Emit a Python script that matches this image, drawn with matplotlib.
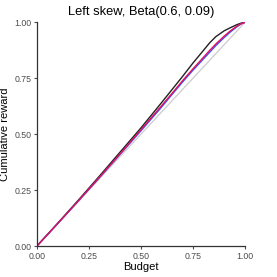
import matplotlib
matplotlib.use("Agg")
import matplotlib.pyplot as plt
import numpy as np

plt.rcParams['font.family'] = ['Liberation Sans', 'DejaVu Sans']

budget = [0.0, 0.1, 0.2, 0.3, 0.4, 0.5, 0.6, 0.65, 0.7, 0.75, 0.8, 0.83, 0.86, 0.9, 0.93, 0.96, 0.98, 1.0]
black_reward = [0.0, 0.102, 0.206, 0.312, 0.42, 0.528, 0.642, 0.70, 0.758, 0.818, 0.874, 0.908, 0.936, 0.962, 0.976, 0.989, 0.996, 1.0]
red_reward = [0.0, 0.101, 0.203, 0.307, 0.412, 0.52, 0.628, 0.683, 0.739, 0.792, 0.843, 0.874, 0.903, 0.938, 0.962, 0.982, 0.993, 1.0]
blue_reward = [0.0, 0.1, 0.202, 0.305, 0.41, 0.515, 0.622, 0.678, 0.733, 0.786, 0.836, 0.866, 0.896, 0.932, 0.957, 0.979, 0.992, 1.0]
diag = [0.0, 1.0]

fig = plt.figure(figsize=(2.77, 2.77), dpi=100)
ax = fig.add_axes([0.1325, 0.111, 0.752, 0.8085])
ax.plot(diag, diag, color="#cccccc", lw=0.9)
ax.plot(budget, black_reward, color="#222222", lw=1.0)
ax.plot(budget, blue_reward, color="#3355ff", lw=1.0)
ax.plot(budget, red_reward, color="#e0115f", lw=1.0)
ax.set_xlim(0, 1)
ax.set_ylim(0, 1)
ticks = [0.0, 0.25, 0.5, 0.75, 1.0]
labels = ["0.00", "0.25", "0.50", "0.75", "1.00"]
ax.set_xticks(ticks, labels)
ax.set_yticks(ticks, labels)
for s in ["top", "right"]:
    ax.spines[s].set_visible(False)
for s in ["left", "bottom"]:
    ax.spines[s].set_linewidth(0.9)
    ax.spines[s].set_color("#333333")
ax.tick_params(labelsize=6.3, colors="#4d4d4d", length=2.5, width=0.8, pad=1.5)
ax.set_xlabel("Budget", fontsize=8, labelpad=1)
ax.set_ylabel("Cumulative reward", fontsize=8, labelpad=3)
ax.set_title("Left skew, Beta(0.6, 0.09)", fontsize=9.3, pad=5)
fig.savefig("out.png", dpi=100)
